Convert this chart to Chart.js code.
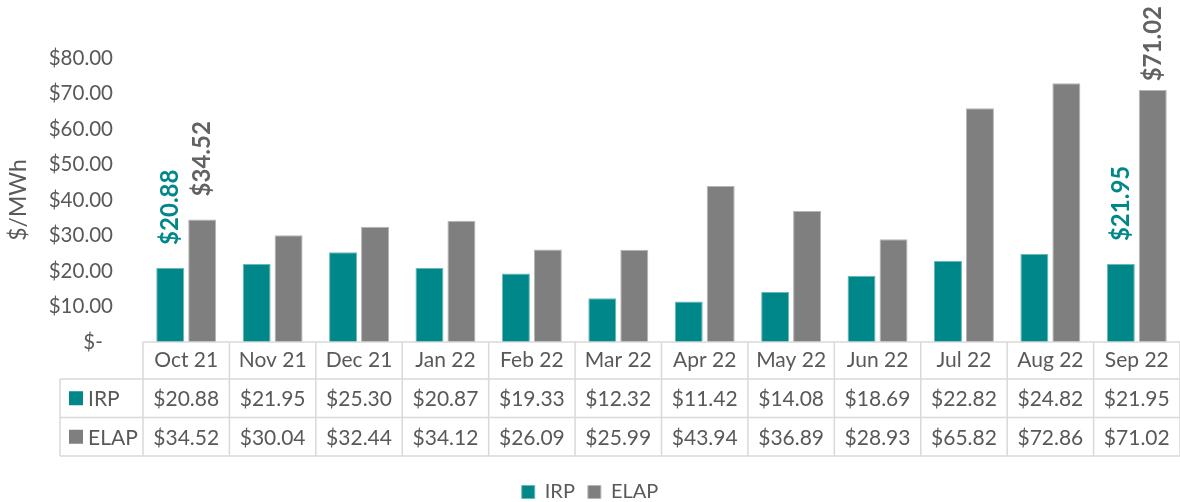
<!DOCTYPE html>
<html>
<head>
<meta charset="utf-8">
<script src="https://cdn.jsdelivr.net/npm/chart.js@4.4.1/dist/chart.umd.min.js"></script>
<style>
  html, body { margin: 0; padding: 0; background: #ffffff; }
  #wrap { width: 1180px; height: 502px; position: relative; }
</style>
</head>
<body>
<div id="wrap"><canvas id="c" width="1180" height="502"></canvas></div>
<script>
const categories = ['Oct 21', 'Nov 21', 'Dec 21', 'Jan 22', 'Feb 22', 'Mar 22', 'Apr 22', 'May 22', 'Jun 22', 'Jul 22', 'Aug 22', 'Sep 22'];
const irpValues = [20.88, 21.95, 25.30, 20.87, 19.33, 12.32, 11.42, 14.08, 18.69, 22.82, 24.82, 21.95];
const elapValues = [34.52, 30.04, 32.44, 34.12, 26.09, 25.99, 43.94, 36.89, 28.93, 65.82, 72.86, 71.02];
const seriesNames = ['IRP', 'ELAP'];
const yAxisTitle = '$/MWh';
const yMin = 0, yMax = 80, yStep = 10;
const labelledIndices = [0, 11];

const TEAL = '#00878A';
const GRAY = '#7F7F7F';
const TEXT = '#595959';
const GRID = '#D9D9D9';
const FONT = 'Lato, "Open Sans", sans-serif';

const PLOT_TOP = 58, PLOT_LEFT = 143, PLOT_BOTTOM = 342;
const PAD_BOTTOM = -10;
const HEADER_H = 37, ROW_H = 38.5, TABLE_LEFT = 60;

function money(v) { return '$' + v.toFixed(2); }

const valueLabels = {
  id: 'valueLabels',
  afterDatasetsDraw(chart) {
    const ctx = chart.ctx;
    chart.data.datasets.forEach((ds, di) => {
      const meta = chart.getDatasetMeta(di);
      labelledIndices.forEach(idx => {
        const bar = meta.data[idx];
        if (!bar) return;
        const text = money(ds.data[idx]);
        ctx.save();
        ctx.font = 'bold 24px ' + FONT;
        const w = ctx.measureText(text).width;
        let start = bar.y - 23;
        if (start - w < 6) start = 6 + w;
        ctx.translate(bar.x, start);
        ctx.rotate(-Math.PI / 2);
        ctx.textAlign = 'left';
        ctx.textBaseline = 'middle';
        ctx.fillStyle = ds.backgroundColor === TEAL ? TEAL : '#626262';
        ctx.fillText(text, 0, 0);
        ctx.restore();
      });
    });
  }
};

const dataTable = {
  id: 'dataTable',
  afterDraw(chart) {
    const ctx = chart.ctx;
    const xs = chart.scales.x;
    const top = chart.chartArea.bottom;
    const right = chart.chartArea.right;
    const r1 = top + HEADER_H, r2 = r1 + ROW_H, r3 = r2 + ROW_H;
    ctx.save();
    ctx.strokeStyle = GRID;
    ctx.lineWidth = 1.5;
    ctx.beginPath();
    ctx.moveTo(PLOT_LEFT, top); ctx.lineTo(right, top);
    [r1, r2, r3].forEach(y => { ctx.moveTo(TABLE_LEFT, y); ctx.lineTo(right, y); });
    ctx.moveTo(TABLE_LEFT, r1); ctx.lineTo(TABLE_LEFT, r3);
    for (let i = 0; i <= categories.length; i++) {
      const x = xs.getPixelForValue(i - 0.5);
      ctx.moveTo(x, top); ctx.lineTo(x, r3);
    }
    ctx.stroke();

    ctx.font = '21px ' + FONT;
    ctx.textBaseline = 'middle';
    ctx.fillStyle = TEXT;
    const rows = [
      { name: seriesNames[0], color: TEAL, data: irpValues, y: (r1 + r2) / 2 },
      { name: seriesNames[1], color: GRAY, data: elapValues, y: (r2 + r3) / 2 }
    ];
    rows.forEach(row => {
      ctx.fillStyle = row.color;
      ctx.fillRect(69, row.y - 7, 14, 14);
      ctx.fillStyle = TEXT;
      ctx.textAlign = 'left';
      ctx.fillText(row.name, 88, row.y + 1);
      ctx.textAlign = 'center';
      row.data.forEach((v, i) => {
        ctx.fillText(money(v), xs.getPixelForValue(i), row.y + 1);
      });
    });
    ctx.restore();
  }
};

new Chart(document.getElementById('c'), {
  type: 'bar',
  data: {
    labels: categories,
    datasets: [
      { label: seriesNames[0], data: irpValues, backgroundColor: TEAL, borderColor: '#6CB8BA', borderWidth: 1 },
      { label: seriesNames[1], data: elapValues, backgroundColor: GRAY, borderColor: '#B5B5B5', borderWidth: 1 }
    ]
  },
  options: {
    responsive: false,
    animation: false,
    devicePixelRatio: 1,
    layout: { padding: { top: PLOT_TOP, left: 0, right: 0, bottom: PAD_BOTTOM } },
    datasets: { bar: { categoryPercentage: 0.74, barPercentage: 0.875 } },
    plugins: {
      tooltip: { enabled: false },
      legend: {
        position: 'bottom',
        labels: { boxWidth: 13, boxHeight: 13, padding: 13, color: TEXT, font: { family: FONT, size: 20 } }
      }
    },
    scales: {
      x: {
        offset: true,
        grid: { display: false, drawTicks: false },
        border: { display: false },
        ticks: { color: TEXT, font: { family: FONT, size: 21 }, padding: 6, maxRotation: 0, autoSkip: false },
        afterFit(s) {
          const lh = s.chart.legend ? s.chart.legend.height : 0;
          s.height = s.chart.height - PAD_BOTTOM - lh - PLOT_BOTTOM;
        }
      },
      y: {
        min: yMin, max: yMax,
        grid: { display: false, drawTicks: false },
        border: { display: false },
        ticks: {
          stepSize: yStep,
          padding: 30,
          color: TEXT,
          font: { family: FONT, size: 20.5 },
          callback: v => v === 0 ? '$-\u2002' : '$' + Number(v).toFixed(2)
        },
        title: { display: true, text: yAxisTitle, color: TEXT, font: { family: FONT, size: 23 }, padding: { top: 5, bottom: 0 } },
        afterFit(s) { s.width = PLOT_LEFT; }
      }
    }
  },
  plugins: [valueLabels, dataTable]
});
</script>
</body>
</html>
